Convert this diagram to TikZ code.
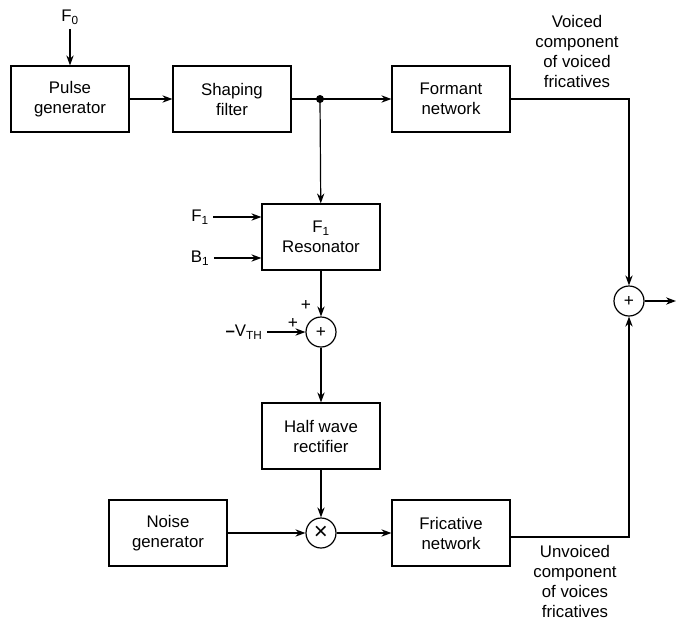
\documentclass[tikz,border=0pt]{standalone}
\usepackage{fontspec}
\setmainfont{Liberation Sans}
\usetikzlibrary{arrows.meta}

\tikzset{
  blk/.style={draw, line width=0.9pt, minimum width=88.5pt, minimum height=49.5pt,
    align=center, font=\fontsize{12.6}{15}\selectfont},
  junc/.style={draw, circle, line width=0.9pt, minimum size=22.5pt, inner sep=0pt},
  lbl/.style={align=center, font=\fontsize{12.6}{15}\selectfont},
  sgn/.style={font=\fontsize{13}{13}\selectfont, inner sep=0pt},
  sig/.style={-{Stealth[length=7.5pt,width=5.5pt]}, line width=0.9pt},
  wire/.style={line width=0.9pt},
}

\begin{document}
\begin{tikzpicture}[x=0.75pt, y=-0.75pt]
  \useasboundingbox (0,0) rectangle (676,619);

  % blocks
  \node[blk] (pulse) at (70,99) {Pulse\\generator};
  \node[blk] (shape) at (232,99) {Shaping\\filter};
  \node[blk] (form) at (451,99) {Formant\\network};
  \node[blk] (res) at (321,237) {F\textsubscript{1}\\Resonator};
  \node[blk] (hwr) at (321,436) {Half wave\\rectifier};
  \node[blk] (noise) at (168,533) {Noise\\generator};
  \node[blk] (fric) at (451,533) {Fricative\\network};

  % junctions
  \node[junc] (sumth) at (321,332) {\fontsize{13}{13}\selectfont +};
  \node[junc] (mult) at (321,533) {\fontsize{18}{18}\selectfont ×};
  \node[junc] (sumout) at (629,301) {\fontsize{13}{13}\selectfont +};
  \fill (320,99) circle (3pt) coordinate (tap);
  \coordinate (out) at (676,301);

  % inputs and labels
  \node[lbl] (f0) at (70,17) {F\textsubscript{0}};
  \node[lbl] (f1) at (200,217) {F\textsubscript{1}};
  \node[lbl] (b1) at (200,258) {B\textsubscript{1}};
  \node[lbl] (vth) at (244,332) {\textbf{–}V\textsubscript{TH}};
  \node[sgn] (pa) at (306,305) {+};
  \node[sgn] (pb) at (293,323) {+};
  \node[lbl] (voiced) at (577,51) {Voiced\\component\\of voiced\\fricatives};
  \node[lbl] (unvoiced) at (575,581) {Unvoiced\\component\\of voices\\fricatives};

  % signal paths
  \draw[sig] (f0) -- (pulse);
  \draw[sig] (pulse) -- (shape);
  \draw[wire] (shape) -- (tap);
  \draw[sig] (tap) -- (form);
  \draw[sig] (tap) -- (res);
  \draw[sig] (f1) -- (f1 -| res.west);
  \draw[sig] (b1) -- (b1 -| res.west);
  \draw[sig] (res) -- (sumth);
  \draw[sig] (vth) -- (sumth);
  \draw[sig] (sumth) -- (hwr);
  \draw[sig] (hwr) -- (mult);
  \draw[sig] (noise) -- (mult);
  \draw[sig] (mult) -- (fric);
  \draw[sig] (form) -| (sumout);
  \draw[sig] ([yshift=-3pt]fric.east) -| (sumout);
  \draw[sig] (sumout) -- (out);
\end{tikzpicture}
\end{document}
